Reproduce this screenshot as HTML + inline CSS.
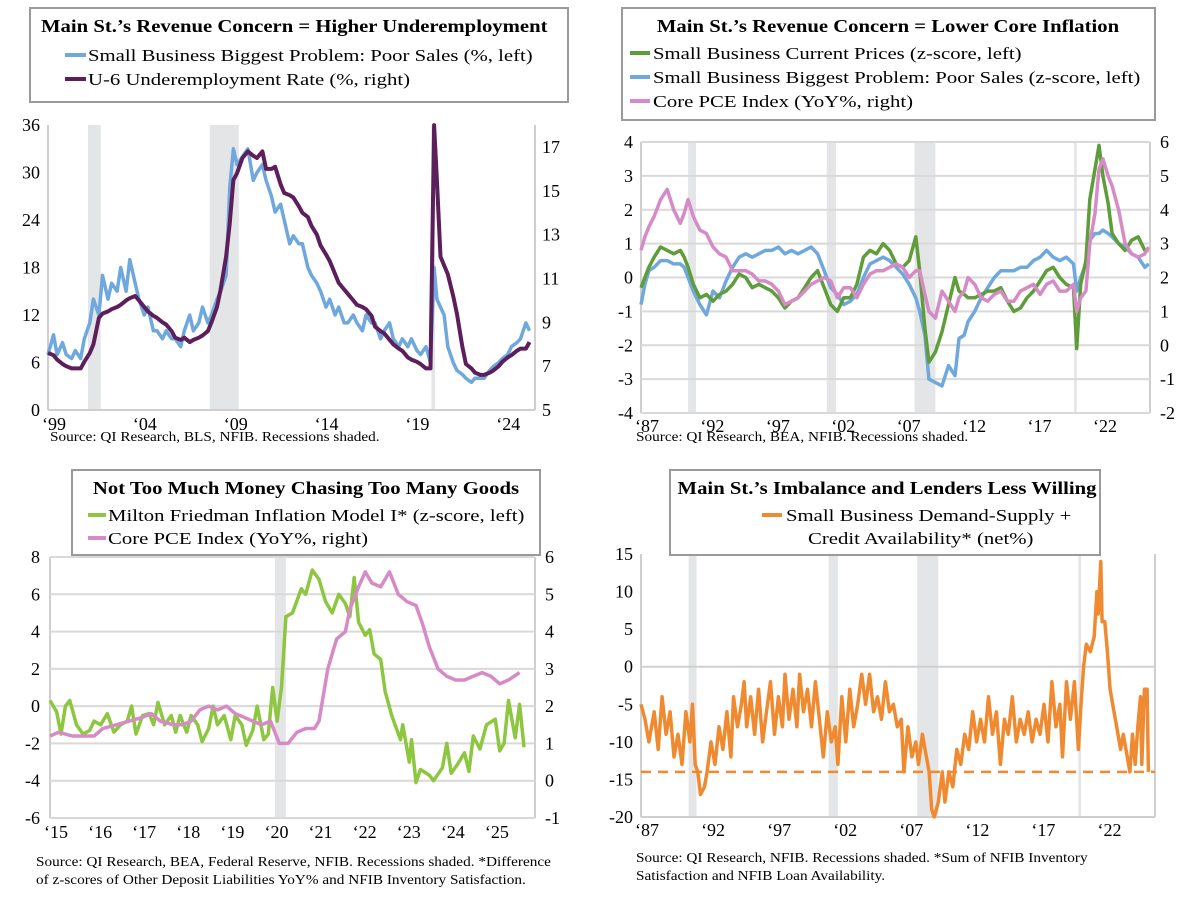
<!DOCTYPE html>
<html><head><meta charset="utf-8"><style>
body{margin:0;background:#fff;}
svg text{font-family:"Liberation Serif",serif;}
</style></head><body>
<svg id="s" width="1200" height="898" viewBox="0 0 1200 898" xmlns="http://www.w3.org/2000/svg">
<rect width="1200" height="898" fill="#fff"/>
<g id="g1"></g>
<g id="g2"></g>
<g id="g3"></g>
<g id="g4"></g>

<g>
<rect x="30" y="8" width="538" height="94" fill="#fff" stroke="#9a9a9a" stroke-width="2"/>
<text class="tt" x="41" y="32" font-size="18" font-weight="bold">Main St.’s Revenue Concern = Higher Underemployment</text>
<line x1="65" y1="55" x2="86" y2="55" stroke="#6fa8dc" stroke-width="4"/>
<text class="lg" x="88" y="61" font-size="17">Small Business Biggest Problem: Poor Sales (%, left)</text>
<line x1="65" y1="79" x2="86" y2="79" stroke="#5c1f5c" stroke-width="4"/>
<text class="lg" x="88" y="85" font-size="17">U-6 Underemployment Rate (%, right)</text>
</g>
<g>
<rect x="622" y="8" width="533" height="112" fill="#fff" stroke="#9a9a9a" stroke-width="2"/>
<text class="tt" x="888" y="32" font-size="18" font-weight="bold" text-anchor="middle">Main St.’s Revenue Concern = Lower Core Inflation</text>
<line x1="630" y1="53" x2="650" y2="53" stroke="#5e9d3a" stroke-width="4"/>
<text class="lg" x="653" y="59" font-size="17">Small Business Current Prices (z-score, left)</text>
<line x1="630" y1="77" x2="650" y2="77" stroke="#6fa8dc" stroke-width="4"/>
<text class="lg" x="653" y="83" font-size="17">Small Business Biggest Problem: Poor Sales (z-score, left)</text>
<line x1="630" y1="101" x2="650" y2="101" stroke="#d68ac6" stroke-width="4"/>
<text class="lg" x="653" y="107" font-size="17">Core PCE Index (YoY%, right)</text>
</g>
<g>
<rect x="72" y="470" width="468" height="85" fill="#fff" stroke="#9a9a9a" stroke-width="2"/>
<text class="tt" x="306" y="494" font-size="18" font-weight="bold" text-anchor="middle">Not Too Much Money Chasing Too Many Goods</text>
<line x1="88" y1="515" x2="106" y2="515" stroke="#8dc63f" stroke-width="4"/>
<text class="lg" x="108" y="521" font-size="17">Milton Friedman Inflation Model I* (z-score, left)</text>
<line x1="88" y1="538" x2="106" y2="538" stroke="#d68ac6" stroke-width="4"/>
<text class="lg" x="108" y="544" font-size="17">Core PCE Index (YoY%, right)</text>
</g>
<g>
<rect x="670" y="470" width="430" height="85" fill="#fff" stroke="#9a9a9a" stroke-width="2"/>
<text class="tt" x="887" y="494" font-size="18" font-weight="bold" text-anchor="middle">Main St.’s Imbalance and Lenders Less Willing</text>
<line x1="762" y1="515" x2="782" y2="515" stroke="#f08a30" stroke-width="4"/>
<text class="lg" x="786" y="521" font-size="17">Small Business Demand-Supply +</text>
<text class="lg" x="808" y="544" font-size="17">Credit Availability* (net%)</text>
</g>

<text class="sr" x="50" y="441" font-size="13.5">Source: QI Research, BLS, NFIB. Recessions shaded.</text>
<text class="sr" x="636" y="441" font-size="13.5">Source: QI Research, BEA, NFIB. Recessions shaded.</text>
<text class="sr" x="36" y="866" font-size="13.5">Source: QI Research, BEA, Federal Reserve, NFIB. Recessions shaded. *Difference</text>
<text class="sr" x="36" y="884" font-size="13.5">of z-scores of Other Deposit Liabilities YoY% and NFIB Inventory Satisfaction.</text>
<text class="sr" x="636" y="862" font-size="13.5">Source: QI Research, NFIB. Recessions shaded. *Sum of NFIB Inventory</text>
<text class="sr" x="636" y="880" font-size="13.5">Satisfaction and NFIB Loan Availability.</text>
</svg>
<script>
// ---------- Panel 1 data ----------
const p1Years=[1999,1999.3,1999.5,1999.8,2000,2000.3,2000.5,2000.8,2001,2001.3,2001.5,2001.8,2002,2002.3,2002.5,2002.8,2003,2003.3,2003.5,2003.8,2004,2004.3,2004.5,2004.8,2005,2005.3,2005.5,2005.8,2006,2006.3,2006.5,2006.8,2007,2007.3,2007.5,2007.8,2008,2008.3,2008.5,2008.8,2009,2009.2,2009.4,2009.7,2010,2010.3,2010.5,2010.8,2011,2011.3,2011.5,2011.8,2012,2012.3,2012.5,2012.8,2013,2013.3,2013.5,2013.8,2014,2014.3,2014.5,2014.8,2015,2015.3,2015.5,2015.8,2016,2016.3,2016.5,2016.8,2017,2017.3,2017.5,2017.8,2018,2018.3,2018.5,2018.8,2019,2019.3,2019.5,2019.8,2020.05,2020.25,2020.4,2020.6,2020.8,2021,2021.3,2021.5,2021.8,2022,2022.3,2022.5,2022.8,2023,2023.3,2023.5,2023.8,2024,2024.3,2024.5,2024.8,2025,2025.3,2025.5];
const p1Sales=[7,9.5,7,8.5,7,6.5,7.5,6.5,9,11,14,12,17,14,16,15,18,15,19,16,14,12,13,10,10,9,10,9,9,8,10,12,10,11,13,11,12,14,15,17,28,33,31,32,33,29,30,31,29,27,25,26,24,21,22,21,21,18,17,16,15,13,14,12,13,11,11,12,11,10,12,11,11,9,10,11,9,8,9,8,9,7.5,7,8,6,18,14,13,12,8,6,5,4.5,4,3.5,4,4,4,5,5.5,6,6.5,7,8,8.5,9,11,10];
const p1U6=[7.6,7.5,7.3,7.1,7,6.9,6.9,6.9,7.2,7.6,8,9.2,9.4,9.5,9.6,9.7,9.8,10,10.1,10.2,10,9.7,9.5,9.3,9.2,9.0,8.9,8.6,8.3,8.2,8.3,8.1,8.2,8.3,8.4,8.6,9.0,9.7,10.5,12,13.5,15.5,15.8,16.5,16.8,16.6,16.5,16.8,16.0,16.0,16.1,15.3,14.9,14.8,14.7,14.3,14.0,13.8,13.4,13.0,12.5,12.1,11.8,11.2,10.8,10.5,10.3,10.0,9.8,9.7,9.6,9.3,8.8,8.6,8.5,8.2,8.0,7.8,7.7,7.4,7.3,7.2,7.1,6.9,6.9,18.5,15.5,12,11.6,11.2,10.2,9.4,7.9,7.1,6.9,6.7,6.6,6.6,6.7,6.8,7.0,7.2,7.4,7.5,7.7,7.8,7.8,8.1];
const p1Rec=[[2001.2,2001.9],[2007.9,2009.5],[2020.1,2020.3]];
const p1LeftTicks=[0,6,12,18,24,30,36];
const p1RightTicks=[5,7,9,11,13,15,17];
const p1XTicks=[1999,2004,2009,2014,2019,2024];
const p1XLabels=["‘99","‘04","‘09","‘14","‘19","‘24"];

// ---------- Panel 2 data ----------
const p2Years=[1987,1987.3,1987.6,1988,1988.5,1989,1989.5,1990,1990.3,1990.6,1991,1991.5,1992,1992.5,1993,1993.5,1994,1994.5,1995,1995.5,1996,1996.5,1997,1997.5,1998,1998.5,1999,1999.5,2000,2000.5,2001,2001.5,2002,2002.5,2003,2003.5,2004,2004.5,2005,2005.5,2006,2006.5,2007,2007.5,2008,2008.3,2008.7,2009,2009.5,2010,2010.5,2011,2011.3,2011.7,2012,2012.5,2013,2013.5,2014,2014.5,2015,2015.5,2016,2016.5,2017,2017.5,2018,2018.5,2019,2019.5,2020.05,2020.3,2020.6,2021,2021.3,2021.7,2022,2022.3,2022.7,2023,2023.5,2024,2024.5,2025,2025.5,2025.8];
const p2Prices=[-0.3,0,0.3,0.6,0.9,0.8,0.7,0.8,0.6,0.3,-0.2,-0.6,-0.5,-0.7,-0.5,-0.4,-0.2,0.1,0,-0.3,-0.2,-0.3,-0.4,-0.6,-0.9,-0.7,-0.6,-0.3,0,0.2,-0.3,-0.8,-1,-0.6,-0.6,-0.2,0.6,0.8,0.7,1,0.8,0.4,0.3,0.5,1.2,0.2,-1.5,-2.5,-2.2,-1.6,-0.8,0,-0.4,-0.5,-0.6,-0.6,-0.5,-0.4,-0.4,-0.3,-0.7,-1,-0.9,-0.6,-0.4,-0.1,0.2,0.3,0,-0.2,-0.3,-2.1,-0.2,0.5,2.3,3.2,3.9,3.0,2.2,1.3,1.0,0.8,1.1,1.2,0.8,0.8];
const p2Sales=[-0.8,-0.2,0.2,0.3,0.5,0.5,0.4,0.4,0.3,0,-0.4,-0.8,-1.1,-0.4,-0.6,-0.1,0.3,0.6,0.7,0.6,0.7,0.8,0.8,0.9,0.7,0.8,0.7,0.8,0.9,0.7,0.2,-0.3,-0.5,-0.8,-0.7,-0.5,0,0.4,0.5,0.6,0.5,0.3,0.1,-0.2,-0.6,-1.0,-1.7,-3.0,-3.1,-3.2,-2.6,-2.9,-1.8,-1.7,-1.3,-1,-0.6,-0.3,0,0.2,0.2,0.2,0.3,0.3,0.5,0.6,0.8,0.6,0.5,0.6,0.4,-0.4,0,0.4,1.1,1.3,1.3,1.4,1.3,1.2,1.0,0.9,0.7,0.6,0.3,0.4];
const p2Pce=[2.8,3.2,3.5,3.8,4.3,4.6,4.0,3.6,3.9,4.3,3.8,3.4,3.3,2.9,2.7,2.6,2.2,2.2,2.2,2.1,1.9,1.9,1.8,1.6,1.2,1.3,1.4,1.6,1.8,1.9,2.0,1.9,1.4,1.7,1.7,1.4,1.8,2.1,2.2,2.2,2.3,2.4,2.3,2.0,2.2,2.2,1.5,1.0,0.8,1.6,1.3,1.0,1.4,1.6,2.0,1.8,1.4,1.3,1.5,1.6,1.3,1.3,1.6,1.7,1.8,1.5,1.8,1.9,1.6,1.6,1.8,1.0,1.4,1.6,3.0,3.9,5.2,5.5,5.0,4.7,4.0,3.0,2.7,2.6,2.7,2.9];
const p2Rec=[[1990.6,1991.2],[2001.2,2001.9],[2007.9,2009.5],[2020.1,2020.3]];
const p2LeftTicks=[-4,-3,-2,-1,0,1,2,3,4];
const p2RightTicks=[-2,-1,0,1,2,3,4,5,6];
const p2XTicks=[1987,1992,1997,2002,2007,2012,2017,2022];
const p2XLabels=["‘87","‘92","‘97","‘02","‘07","‘12","‘17","‘22"];

// ---------- Panel 3 data ----------
const p3GYears=[2015,2015.15,2015.25,2015.35,2015.45,2015.6,2015.75,2015.9,2016,2016.15,2016.3,2016.45,2016.6,2016.75,2016.85,2016.95,2017.1,2017.25,2017.35,2017.45,2017.6,2017.75,2017.85,2017.95,2018.1,2018.2,2018.35,2018.45,2018.6,2018.7,2018.8,2018.95,2019.1,2019.2,2019.35,2019.45,2019.6,2019.7,2019.85,2019.95,2020.05,2020.15,2020.25,2020.35,2020.5,2020.7,2020.8,2020.95,2021.1,2021.25,2021.4,2021.55,2021.7,2021.8,2021.9,2022,2022.15,2022.25,2022.35,2022.5,2022.6,2022.75,2022.95,2023,2023.15,2023.2,2023.3,2023.4,2023.6,2023.7,2023.9,2024,2024.1,2024.25,2024.4,2024.5,2024.6,2024.75,2024.9,2025.1,2025.2,2025.3,2025.4,2025.55,2025.65,2025.75];
const p3Friedman=[0.3,-0.3,-1.5,0,0.3,-1,-1.5,-1.3,-0.8,-1,-0.4,-1.4,-1,-0.8,0,-1.5,-0.5,-0.4,-1,0.2,-1,-0.5,-1.4,-0.5,-1.4,-0.5,-1,-1.9,-1.2,0,-1,-0.5,-1.8,-0.5,-1,-2.1,-1.3,0,-1.8,-1.5,1,-0.8,1,4.8,5,6.3,6,7.3,6.8,5.6,5,6,5.5,4.8,6.9,4.5,3.8,4.1,2.8,2.5,0.8,-0.5,-1.8,-1,-3,-1.8,-4.1,-3.4,-3.7,-4,-3.3,-2,-3.6,-3.1,-2.5,-3.5,-1.6,-2.3,-1,-0.7,-2.4,-2,0.3,-1.7,0.1,-2.2];
const p3PYears=[2015,2015.2,2015.5,2015.8,2016,2016.2,2016.5,2016.8,2017.1,2017.3,2017.5,2017.8,2018,2018.2,2018.4,2018.6,2018.8,2019,2019.2,2019.4,2019.6,2019.8,2020,2020.2,2020.4,2020.6,2020.8,2021,2021.1,2021.3,2021.5,2021.7,2021.8,2022,2022.15,2022.3,2022.5,2022.7,2022.9,2023.1,2023.3,2023.45,2023.6,2023.8,2024,2024.2,2024.4,2024.6,2024.8,2025,2025.2,2025.4,2025.65];
const p3Pce=[1.2,1.3,1.2,1.2,1.2,1.4,1.5,1.6,1.7,1.8,1.6,1.5,1.5,1.6,1.9,2.0,1.9,2.0,1.8,1.7,1.6,1.5,1.6,1.0,1.0,1.3,1.4,1.4,1.6,3.0,3.8,4.0,4.6,5.2,5.6,5.3,5.2,5.6,5.0,4.8,4.7,4.2,3.6,3.0,2.8,2.7,2.7,2.8,2.9,2.8,2.6,2.7,2.9];
const p3Rec=[[2020.1,2020.35]];
const p3LeftTicks=[-6,-4,-2,0,2,4,6,8];
const p3RightTicks=[-1,0,1,2,3,4,5,6];
const p3XTicks=[2015,2016,2017,2018,2019,2020,2021,2022,2023,2024,2025];
const p3XLabels=["‘15","‘16","‘17","‘18","‘19","‘20","‘21","‘22","‘23","‘24","‘25"];

// ---------- Panel 4 data ----------
const p4Years=[1987,1987.3,1987.6,1988,1988.3,1988.6,1988.9,1989.2,1989.5,1989.8,1990.1,1990.4,1990.7,1990.9,1991.1,1991.3,1991.5,1991.8,1992,1992.3,1992.6,1992.9,1993.2,1993.5,1993.8,1994,1994.3,1994.6,1994.8,1995,1995.3,1995.6,1995.9,1996.2,1996.5,1996.8,1997.1,1997.4,1997.7,1997.9,1998.2,1998.5,1998.8,1999,1999.3,1999.6,1999.9,2000.2,2000.5,2000.8,2001.1,2001.4,2001.7,2001.9,2002.2,2002.5,2002.8,2003.1,2003.4,2003.7,2004,2004.3,2004.6,2004.9,2005.2,2005.5,2005.8,2006.1,2006.4,2006.7,2006.9,2007.2,2007.5,2007.8,2008,2008.3,2008.6,2008.8,2009,2009.2,2009.5,2009.8,2010,2010.3,2010.6,2010.9,2011.2,2011.5,2011.8,2012.1,2012.4,2012.7,2013,2013.3,2013.6,2013.9,2014.2,2014.5,2014.8,2015.1,2015.4,2015.7,2016,2016.3,2016.6,2016.9,2017.2,2017.5,2017.8,2018.1,2018.4,2018.7,2018.9,2019.2,2019.5,2019.8,2020.1,2020.3,2020.5,2020.7,2021,2021.3,2021.5,2021.6,2021.8,2021.9,2022.1,2022.3,2022.5,2022.8,2023,2023.3,2023.5,2023.8,2024,2024.2,2024.4,2024.6,2024.8,2024.9,2025.1,2025.3,2025.4];
const p4Net=[-5,-7,-10,-6,-11,-4,-9,-6,-12,-9,-13,-6,-10,-5,-13,-14,-17,-16,-14,-10,-13,-8,-11,-6,-12,-4,-8,-5,-2,-8,-4,-9,-3,-10,-6,-2,-9,-4,-8,-1,-7,-3,-8,-1,-6,-3,-8,-2,-7,-12,-6,-10,-8,-13,-4,-10,-3,-8,-5,-1,-5,-1,-6,-4,-7,-2,-6,-5,-8,-7,-14,-8,-12,-10,-13,-9,-12,-14,-19,-20,-18,-14,-18,-14,-16,-11,-13,-9,-11,-6,-10,-7,-10,-4,-9,-6,-13,-7,-9,-4,-10,-7,-9,-6,-10,-7,-9,-5,-10,-2,-8,-5,-12,-2,-7,-2,-11,-5,0,3,2,4,10,7,14,6,6,2,-3,-6,-8,-11,-9,-12,-14,-9,-13,-8,-4,-13,-3,-3,-14];
const p4Threshold=-14;
const p4Rec=[[1990.6,1991.2],[2001.2,2001.9],[2007.9,2009.5],[2020.1,2020.3]];
const p4LeftTicks=[-20,-15,-10,-5,0,5,10,15];
const p4XTicks=p2XTicks;
const p4XLabels=p2XLabels;

const NS="http://www.w3.org/2000/svg";
function mk(parent,tag,attrs){const e=document.createElementNS(NS,tag);for(const k in attrs)e.setAttribute(k,attrs[k]);parent.appendChild(e);return e;}
function lin(d0,d1,r0,r1){return v=>r0+(v-d0)*(r1-r0)/(d1-d0);}
function pathD(xs,ys,fx,fy,ymin,ymax){return xs.map((x,i)=>{let v=ys[i];if(ymax!==undefined)v=Math.min(ymax,Math.max(ymin,v));return (i?'L':'M')+fx(x).toFixed(1)+','+fy(v).toFixed(1);}).join('');}

function frame(g,fx,y0,y1,rec,xl,xr,xticks,xlabels,labelY){
  rec.forEach(r=>{const e=mk(g,'rect',{x:fx(r[0]),y:y0,width:Math.max(2,fx(r[1])-fx(r[0])),height:y1-y0,fill:'#e4e5e7'});
    
    });
  mk(g,'line',{x1:xl,y1:y0,x2:xl,y2:y1,stroke:'#cfcfcf','stroke-width':2});
  mk(g,'line',{x1:xr,y1:y0,x2:xr,y2:y1,stroke:'#cfcfcf','stroke-width':2});
  mk(g,'line',{x1:xl,y1:y1,x2:xr,y2:y1,stroke:'#cfcfcf','stroke-width':2});
  xticks.forEach((t,i)=>{const e=mk(g,'text',{x:fx(t)+6,y:labelY,'font-size':18,'text-anchor':'middle'});e.textContent=xlabels[i];
    
    });
}
function yLabels(g,ticks,fy,x,anchor,grid,xl,xr){
  ticks.forEach(t=>{
    if(grid){mk(g,'line',{x1:xl,y1:fy(t),x2:xr,y2:fy(t),stroke:'#d9d9d9','stroke-width':2});}
    const e=mk(g,'text',{x:x,y:fy(t)+6,'font-size':18,'text-anchor':anchor});e.textContent=t;
    
    });
}
function series(g,xs,ys,fx,fy,color,name,w,ymin,ymax){
  const p=mk(g,'path',{d:pathD(xs,ys,fx,fy,ymin,ymax),fill:'none',stroke:color,'stroke-width':w||3.5,'stroke-linejoin':'round'});
  
  
}

(function(){const g=document.getElementById('g1');
  const fx=lin(1999,2025.8,48,535), fyL=lin(0,36,410,125), fyR=lin(5,17,410,147);
  frame(g,fx,125,410,p1Rec,48,535,p1XTicks,p1XLabels,430);
  yLabels(g,p1LeftTicks,fyL,40,'end',false);
  yLabels(g,p1RightTicks,fyR,542,'start',false);
  series(g,p1Years,p1Sales,fx,fyL,'#6fa8dc','line-poor-sales',3.5);
  series(g,p1Years,p1U6,fx,fyR,'#5c1f5c','line-u6',4,5,18);
})();
(function(){const g=document.getElementById('g2');
  const fx=lin(1987,2025.9,641,1150), fyL=lin(-4,4,413,142), fyR=lin(-2,6,413,142);
  frame(g,fx,142,413,p2Rec,641,1150,p2XTicks,p2XLabels,432);
  yLabels(g,p2LeftTicks,fyL,633,'end',true,641,1150);
  yLabels(g,p2RightTicks,fyR,1160,'start',false);
  series(g,p2Years,p2Sales,fx,fyL,'#6fa8dc','line-poor-sales-z',3.5);
  series(g,p2Years,p2Prices,fx,fyL,'#5e9d3a','line-current-prices',3.5);
  series(g,p2Years,p2Pce,fx,fyR,'#d68ac6','line-core-pce',3.5);
})();
(function(){const g=document.getElementById('g3');
  const fx=lin(2015,2026,50,535), fyL=lin(-6,8,818,557), fyR=lin(-1,6,818,557);
  frame(g,fx,557,818,p3Rec,50,535,p3XTicks,p3XLabels,838);
  yLabels(g,p3LeftTicks,fyL,40,'end',true,50,535);
  yLabels(g,p3RightTicks,fyR,545,'start',false);
  series(g,p3GYears,p3Friedman,fx,fyL,'#8dc63f','line-friedman',3.5);
  series(g,p3PYears,p3Pce,fx,fyR,'#d68ac6','line-core-pce-3',3.5);
})();
(function(){const g=document.getElementById('g4');
  const fx=lin(1987,2025.9,641,1155), fy=lin(-20,15,817,554);
  frame(g,fx,554,817,p4Rec,641,1155,p4XTicks,p4XLabels,836);
  yLabels(g,p4LeftTicks,fy,633,'end',false);
  const z=mk(g,'line',{x1:641,y1:fy(0),x2:1155,y2:fy(0),stroke:'#d0d0d0','stroke-width':2});
  
  
  const d=mk(g,'line',{x1:641,y1:fy(p4Threshold),x2:1155,y2:fy(p4Threshold),stroke:'#f08a30','stroke-width':2.5,'stroke-dasharray':'10,7'});
  
  
  series(g,p4Years,p4Net,fx,fy,'#f08a30','line-demand-supply',3.5);
})();

// widen text to match reference typeface metrics
function stretch(sel,f){document.querySelectorAll(sel).forEach(t=>{const w=t.getComputedTextLength();t.setAttribute('textLength',(w*f).toFixed(1));t.setAttribute('lengthAdjust','spacingAndGlyphs');});}
stretch('text.tt',1.15);
stretch('text.lg',1.22);
stretch('text.sr',1.13);
</script>
</body></html>
